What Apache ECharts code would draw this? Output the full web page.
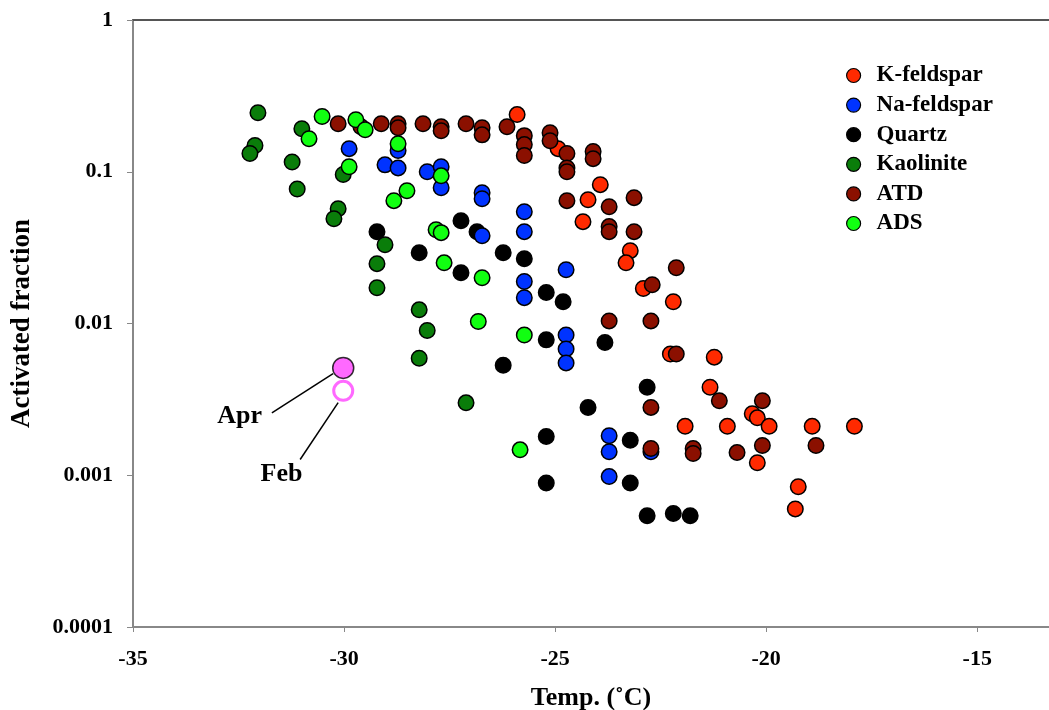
<!DOCTYPE html>
<html>
<head>
<meta charset="utf-8">
<script src="https://cdn.jsdelivr.net/npm/echarts@6/dist/echarts.min.js"></script>
<style>html,body{margin:0;padding:0;background:#fff}#c{width:1049px;height:710px}</style>
</head>
<body>
<div id="c"></div>
<script>
// ---- data: [temperature (°C), activated fraction] ----
const seriesNames = ['K-feldspar', 'Na-feldspar', 'Quartz', 'Kaolinite', 'ATD', 'ADS'];
const xTicks = [-35, -30, -25, -20, -15];
const yTicks = [0.0001, 0.001, 0.01, 0.1, 1];

const kFeldspar = [
  [-25.90, 0.238], [-24.93, 0.142], [-24.22, 0.0654], [-23.93, 0.0822], [-24.34, 0.0469],
  [-23.22, 0.0302], [-23.32, 0.0251], [-22.91, 0.0170], [-22.20, 0.0139], [-22.27, 0.0063],
  [-21.23, 0.0060], [-21.33, 0.0038], [-21.92, 0.0021], [-20.92, 0.0021], [-20.33, 0.00254],
  [-20.21, 0.00239], [-19.93, 0.0021], [-18.91, 0.0021], [-17.91, 0.0021], [-20.21, 0.00121],
  [-19.24, 0.00084], [-19.31, 0.00060]
];
const naFeldspar = [
  [-29.88, 0.142], [-28.72, 0.138], [-29.03, 0.111], [-28.72, 0.106], [-28.03, 0.100],
  [-27.70, 0.108], [-27.70, 0.0785], [-26.73, 0.0728], [-26.73, 0.0664], [-25.73, 0.0545],
  [-25.73, 0.0403], [-26.73, 0.0379], [-24.74, 0.0226], [-25.73, 0.0189], [-25.73, 0.0148],
  [-24.74, 0.0084], [-24.74, 0.0068], [-24.74, 0.0055], [-23.72, 0.00182], [-23.72, 0.00143],
  [-22.73, 0.00143], [-23.72, 0.00098]
];
const quartz = [
  [-29.22, 0.0403], [-27.23, 0.0476], [-26.85, 0.0403], [-28.22, 0.0293], [-27.23, 0.0216],
  [-26.23, 0.0293], [-25.73, 0.0267], [-25.21, 0.0160], [-24.81, 0.0139], [-25.21, 0.0078],
  [-23.82, 0.0075], [-26.23, 0.0053], [-22.82, 0.0038], [-24.22, 0.0028], [-25.21, 0.0018],
  [-23.22, 0.0017], [-25.21, 0.00089], [-23.22, 0.00089], [-22.82, 0.00054], [-22.20, 0.00056],
  [-21.80, 0.00054]
];
const kaolinite = [
  [-32.04, 0.245], [-32.11, 0.149], [-32.23, 0.132], [-31.00, 0.192], [-31.23, 0.116],
  [-31.11, 0.077], [-30.02, 0.096], [-30.14, 0.057], [-30.24, 0.049], [-29.03, 0.033],
  [-29.22, 0.0248], [-29.22, 0.0172], [-28.22, 0.0123], [-28.03, 0.0090], [-28.22, 0.0059],
  [-27.11, 0.0030]
];
const atd = [
  [-30.14, 0.207], [-29.60, 0.198], [-29.12, 0.207], [-28.72, 0.207], [-28.72, 0.195],
  [-28.13, 0.207], [-27.70, 0.198], [-27.70, 0.186], [-27.11, 0.207], [-26.73, 0.195],
  [-26.73, 0.175], [-26.14, 0.198], [-25.73, 0.173], [-25.73, 0.151], [-25.73, 0.128],
  [-25.12, 0.181], [-25.12, 0.160], [-24.72, 0.132], [-24.72, 0.106], [-24.72, 0.100],
  [-24.10, 0.136], [-24.10, 0.122], [-24.72, 0.0645], [-23.72, 0.0588], [-23.13, 0.0675],
  [-23.72, 0.0435], [-23.72, 0.0403], [-23.13, 0.0403], [-22.13, 0.0233], [-22.70, 0.0180],
  [-23.72, 0.0104], [-22.73, 0.0104], [-22.13, 0.0063], [-22.73, 0.0028], [-22.73, 0.00150],
  [-21.11, 0.0031], [-20.09, 0.0031], [-21.73, 0.00150], [-21.73, 0.00139], [-20.69, 0.00141],
  [-20.09, 0.00157], [-18.82, 0.00157]
];
const ads = [
  [-30.52, 0.231], [-29.72, 0.220], [-29.50, 0.189], [-30.83, 0.165], [-28.72, 0.153],
  [-29.88, 0.108], [-27.70, 0.094], [-28.51, 0.075], [-28.82, 0.0645], [-27.82, 0.0415],
  [-27.70, 0.0397], [-27.63, 0.0251], [-26.73, 0.0200], [-26.82, 0.0103], [-25.73, 0.0084],
  [-25.83, 0.00147]
];
// field samples
const aprPoint = [-30.02, 0.0051];
const febPoint = [-30.02, 0.0036];
// annotation labels [x, y, text] and leader lines [from, to]
const annotLabels = [[-32.46, 0.00244, 'Apr'], [-31.47, 0.00101, 'Feb']];
const annotLines = [
  [[-31.71, 0.00258], [-30.26, 0.00467]],
  [[-31.04, 0.00127], [-30.14, 0.00301]]
];

const colors = ['#ff2a00', '#0033ff', '#000000', '#0a7d0a', '#8b1000', '#11ff11'];
const datasets = [kFeldspar, naFeldspar, quartz, kaolinite, atd, ads];
const zOrder = [2, 4, 3, 5, 6, 7];

const FONT = '"Liberation Serif", "Times New Roman", serif';

const series = datasets.map((d, i) => ({
  name: seriesNames[i],
  type: 'scatter',
  data: d,
  symbol: 'circle',
  symbolSize: 15.5,
  z: zOrder[i],
  itemStyle: { color: colors[i], borderColor: '#000', borderWidth: 1.5, opacity: 1 }
}));

series.push({
  name: 'samples',
  type: 'scatter',
  z: 8,
  data: [
    { value: aprPoint, symbolSize: 21, itemStyle: { color: '#ff44ff', borderColor: '#000', borderWidth: 1.5 } },
    { value: febPoint, symbolSize: 19, itemStyle: { color: '#ffffff', borderColor: '#ff44ff', borderWidth: 3 } }
  ],
  markLine: {
    silent: true,
    symbol: ['none', 'none'],
    label: { show: false },
    lineStyle: { color: '#000', width: 1.5, type: 'solid', opacity: 1 },
    data: annotLines.map(l => [{ coord: l[0] }, { coord: l[1] }])
  }
});

series.push({
  name: 'labels',
  type: 'scatter',
  symbol: 'circle',
  symbolSize: 1,
  z: 9,
  itemStyle: { color: '#fff', opacity: 0 },
  data: annotLabels,
  label: {
    show: true,
    position: [0, 0],
    align: 'center',
    verticalAlign: 'middle',
    formatter: p => p.value[2],
    fontFamily: FONT, fontWeight: 'bold', fontSize: 26, color: '#000',
    textBorderWidth: 0, opacity: 1
  }
});

const chart = echarts.init(document.getElementById('c'), null, { renderer: 'canvas' });
chart.setOption({
  animation: false,
  backgroundColor: '#fff',
  grid: { left: 133, right: 0, top: 20, bottom: 83, containLabel: false, outerBoundsMode: 'none' },
  legend: {
    data: seriesNames,
    orient: 'vertical',
    left: 841,
    top: 59,
    itemWidth: 14,
    itemHeight: 14,
    itemGap: 6.6,
    icon: 'circle',
    itemStyle: { borderColor: '#000', borderWidth: 1.2 },
    textStyle: { fontFamily: FONT, fontWeight: 'bold', fontSize: 23, color: '#000', padding: [0, 0, 0, 11] }
  },
  xAxis: [{
    type: 'value',
    min: -35,
    max: -13.3,
    name: 'Temp. (˚C)',
    nameLocation: 'middle',
    nameGap: 58,
    nameTextStyle: { fontFamily: FONT, fontWeight: 'bold', fontSize: 26, color: '#000' },
    splitLine: { show: false },
    axisLine: { show: true, onZero: false, lineStyle: { color: '#888', width: 2 } },
    axisTick: { show: true, inside: false, length: 5, customValues: xTicks, lineStyle: { color: '#888', width: 1 } },
    axisLabel: { customValues: xTicks, margin: 21, fontFamily: FONT, fontWeight: 'bold', fontSize: 22, color: '#000' }
  }, {
    type: 'value', position: 'top', min: -35, max: -13.3,
    axisLine: { show: true, lineStyle: { color: '#555', width: 2 } },
    axisTick: { show: false }, axisLabel: { show: false }, splitLine: { show: false }
  }],
  yAxis: {
    type: 'log',
    logBase: 10,
    min: 0.0001,
    max: 1,
    name: 'Activated fraction',
    nameLocation: 'middle',
    nameGap: 97,
    nameTextStyle: { fontFamily: FONT, fontWeight: 'bold', fontSize: 27, color: '#000' },
    splitLine: { show: false },
    minorTick: { show: false },
    axisLine: { show: true, lineStyle: { color: '#888', width: 2 } },
    axisTick: { show: true, inside: false, length: 6, lineStyle: { color: '#888', width: 1 } },
    axisLabel: {
      margin: 20,
      fontFamily: FONT, fontWeight: 'bold', fontSize: 22, color: '#000',
      formatter: v => {
        const t = yTicks.find(k => Math.abs(Math.log10(k) - Math.log10(v)) < 1e-6);
        return t === undefined ? '' : String(t);
      }
    }
  },
  series: series
});
</script>
</body>
</html>
